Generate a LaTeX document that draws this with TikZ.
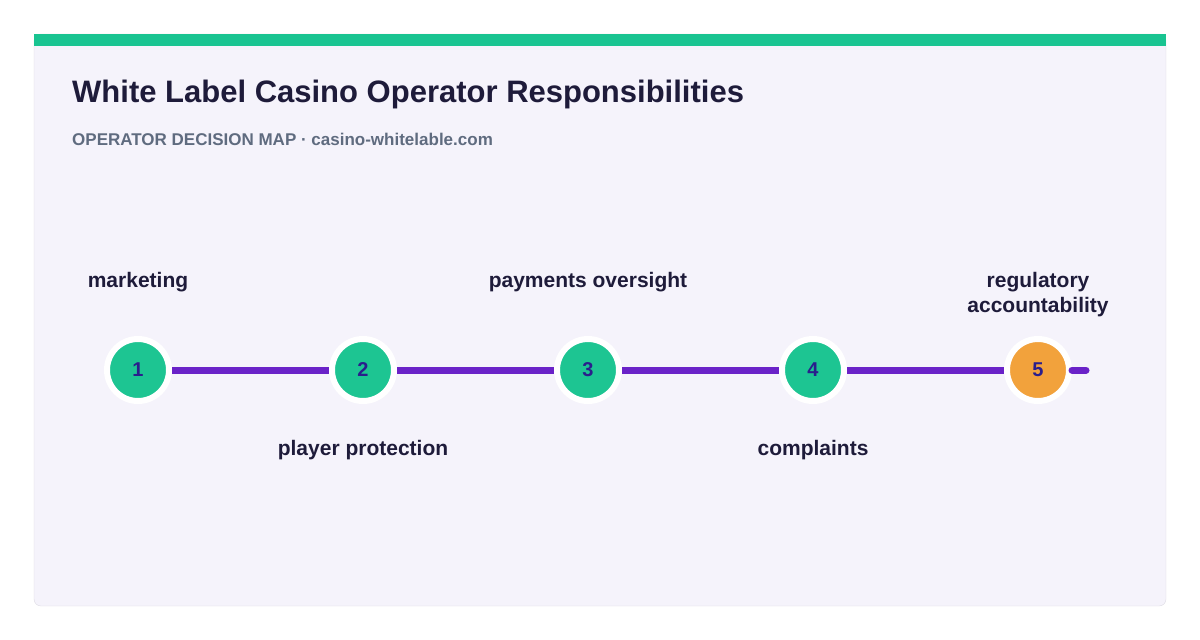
\documentclass[tikz,border=0pt]{standalone}
\usepackage{fontspec}
\setmainfont{Liberation Sans}
\usetikzlibrary{positioning}
\definecolor{cardbg}{HTML}{F5F3FB}
\definecolor{cardln}{HTML}{DDDBE3}
\definecolor{topcol}{HTML}{19C491}
\definecolor{inkcol}{HTML}{1E1B3A}
\definecolor{subcol}{HTML}{5F6B7F}
\definecolor{trackcol}{HTML}{6A22C8}
\definecolor{donecol}{HTML}{1DC592}
\definecolor{lastcol}{HTML}{F2A23C}
\definecolor{numcol}{HTML}{2A1E8C}

\begin{document}
\begin{tikzpicture}[x=1pt, y=-1pt,
  milestone/.style={circle, fill=#1, draw=white, line width=6pt,
                    minimum size=62pt, inner sep=0pt,
                    font=\fontsize{20}{20}\selectfont\bfseries, text=numcol},
  track/.style={draw=trackcol, line width=7pt},
  lbl/.style={font=\fontsize{21}{25}\selectfont\bfseries, text=inkcol, align=center}
]
\useasboundingbox (0,0) rectangle (1200,640);

% card
\draw[cardln, fill=cardbg, rounded corners=7pt] (34,34) rectangle (1166,606);
\fill[topcol] (34,34) rectangle (1166,45.5);

\node[anchor=base west, inner sep=0pt, text=inkcol,
      font=\fontsize{31}{31}\selectfont\bfseries] (title) at (72,102)
      {White Label Casino Operator Responsibilities};
\node[anchor=base west, inner sep=0pt, text=subcol,
      font=\fontsize{17}{17}\selectfont\bfseries] (sub) at (72,145)
      {OPERATOR DECISION MAP · casino-whitelable.com};

% milestones
\coordinate (tail) at (1086,370);
\node[milestone=donecol] (m1) at (138,370)  {1};
\node[milestone=donecol] (m2) at (363,370)  {2};
\node[milestone=donecol] (m3) at (588,370)  {3};
\node[milestone=donecol] (m4) at (813,370)  {4};
\node[milestone=lastcol] (m5) at (1038,370) {5};

\draw[track] (m1) -- (m2);
\draw[track] (m2) -- (m3);
\draw[track] (m3) -- (m4);
\draw[track] (m4) -- (m5);
\draw[track, line cap=round] (m5) -- (tail);

\node[lbl] (l1) at (138,282)  {marketing};
\node[lbl] (l2) at (363,450)  {player protection};
\node[lbl] (l3) at (588,282)  {payments oversight};
\node[lbl] (l4) at (813,450)  {complaints};
\node[lbl] (l5) at (1038,295) {regulatory\\accountability};

\end{tikzpicture}
\end{document}
